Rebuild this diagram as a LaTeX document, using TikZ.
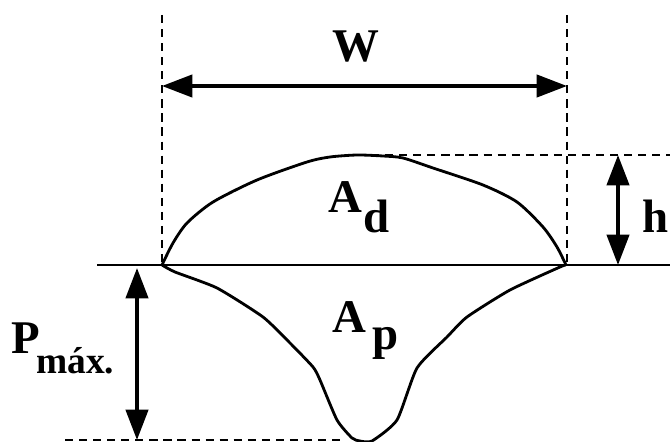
\documentclass[tikz,border=0pt]{standalone}
\usepackage{fontspec}
\setmainfont{Liberation Serif}
\usetikzlibrary{arrows.meta}
\begin{document}
\begin{tikzpicture}[x=0.3mm,y=-0.3mm]
\useasboundingbox (0,0) rectangle (670,442);
\tikzset{
  dimarrow/.style={line width=3.2pt,
    {Triangle[length=26pt,width=19pt]}-{Triangle[length=26pt,width=19pt]}},
  guide/.style={line width=1.1pt, dash pattern=on 7pt off 5pt},
  profile/.style={line width=2.4pt, line join=round},
  baseln/.style={line width=1.3pt},
  lbl/.style={inner sep=0pt, font=\bfseries\fontsize{40}{40}\selectfont},
  sublbl/.style={inner sep=0pt, font=\bfseries\fontsize{32}{32}\selectfont}
}

% named points
\coordinate (L) at (162,265);
\coordinate (R) at (566,265);
\coordinate (T) at (357,155);
\coordinate (base0) at (97,265);
\coordinate (base1) at (670,265);
\coordinate (gl0) at (162,15);
\coordinate (gr0) at (567,15);
\coordinate (gr1) at (567,265);
\coordinate (wl) at (162,86);
\coordinate (wr) at (567,86);
\coordinate (hd1) at (670,155);
\coordinate (h0) at (618,155);
\coordinate (h1) at (618,265);
\coordinate (bd0) at (65,440);
\coordinate (bd1) at (345,440);
\coordinate (p0) at (137,268);
\coordinate (p1) at (137,440);

% guides
\draw[guide] (gl0) -- (L);
\draw[guide] (gr0) -- (gr1);
\draw[guide] (T) -- (hd1);
\draw[guide] (bd0) -- (bd1);

% base line
\draw[baseln] (base0) -- (base1);

% weld bead profile
\draw[profile] plot[smooth, tension=0.45] coordinates {
  (162,265) (173,243) (187,223) (213,202) (257,180) (307,162) (330,157)
  (357,155) (383,156) (403,158) (433,168) (483,185) (517,202) (543,227)
  (557,247) (566,265)};
\draw[profile] plot[smooth, tension=0.35] coordinates {
  (162,265) (175,272) (217,288) (263,317) (290,343) (313,367) (320,380)
  (337,420) (352,438) (360,441) (372,441) (397,420) (417,368) (447,337)
  (467,317) (510,290) (560,267) (566,265)};

% dimension arrows
\draw[dimarrow] (wl) -- (wr);
\draw[dimarrow] (h0) -- (h1);
\draw[dimarrow] (p0) -- (p1);

% labels
\node[lbl, anchor=base] (W) at (356,62) {W};
\node[lbl, anchor=base] (Ad) at (345.5,212) {A};
\node[lbl, anchor=base west] (dd) at (363,232) {d};
\node[lbl, anchor=base] (Ap) at (349,332) {A};
\node[lbl, anchor=base west] (pp) at (372,349) {p};
\node[lbl, anchor=base] (hh) at (656,232) {h};
\node[lbl, anchor=base west] (PP) at (11,353) {P};
\node[sublbl, anchor=base west] (mx) at (36,373) {máx.};
\end{tikzpicture}
\end{document}
